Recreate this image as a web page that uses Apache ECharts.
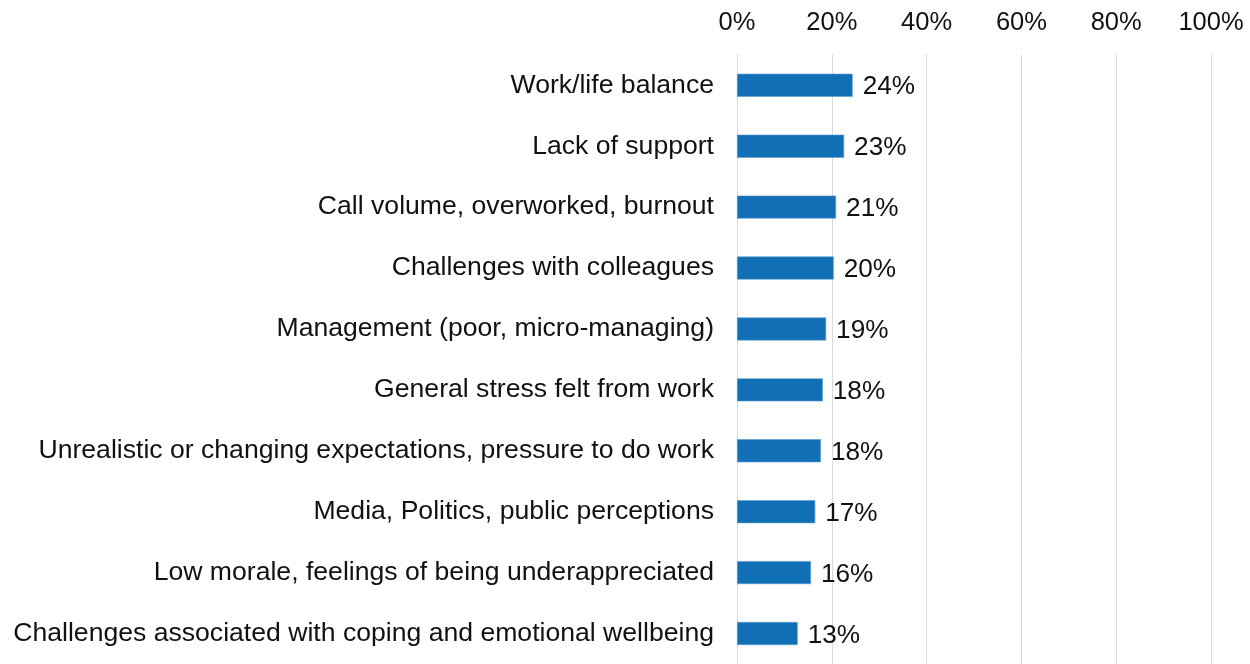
<!DOCTYPE html>
<html>
<head>
<meta charset="utf-8">
<script src="https://cdn.jsdelivr.net/npm/echarts@6/dist/echarts.min.js"></script>
<style>
html,body{margin:0;padding:0;background:#fff;}
#chart{width:1250px;height:664px;}
</style>
</head>
<body>
<div id="chart"></div>
<script>
var categories = [
  "Work/life balance",
  "Lack of support",
  "Call volume, overworked, burnout",
  "Challenges with colleagues",
  "Management (poor, micro-managing)",
  "General stress felt from work",
  "Unrealistic or changing expectations, pressure to do work",
  "Media, Politics, public perceptions",
  "Low morale, feelings of being underappreciated",
  "Challenges associated with coping and emotional wellbeing"
];
var values = [24.4, 22.6, 20.9, 20.4, 18.8, 18.1, 17.7, 16.5, 15.6, 12.8];
var tickLabels = ["0%", "20%", "40%", "60%", "80%", "100%"];

var FONT = "'Liberation Sans', Arial, sans-serif";
var chart = echarts.init(document.getElementById('chart'));
chart.setOption({
  animation: false,
  grid: {left: 737, right: 39, top: 54.8, height: 614, containLabel: false},
  xAxis: {
    type: 'value', position: 'top', min: 0, max: 100, interval: 20,
    axisLine: {show: false}, axisTick: {show: false},
    axisLabel: {
      margin: 19, fontSize: 25.5, color: '#111', fontFamily: FONT,
      formatter: function (v) { return tickLabels[Math.round(v / 20)]; }
    },
    splitLine: {show: true, lineStyle: {color: '#d9d9d9', width: 1}}
  },
  yAxis: {
    type: 'category', inverse: true, data: categories,
    axisLine: {show: false}, axisTick: {show: false},
    axisLabel: {margin: 23, fontSize: 26.6, color: '#111', fontFamily: FONT}
  },
  series: [{
    type: 'bar', data: values, barWidth: 23,
    itemStyle: {color: '#1170b5', borderColor: '#5a9bd0', borderWidth: 0.6},
    label: {
      show: true, position: 'right', distance: 10, offset: [0, 2], fontSize: 26.2, color: '#111',
      fontFamily: FONT,
      formatter: function (p) { return Math.round(p.value) + '%'; }
    }
  }]
});
</script>
</body>
</html>
